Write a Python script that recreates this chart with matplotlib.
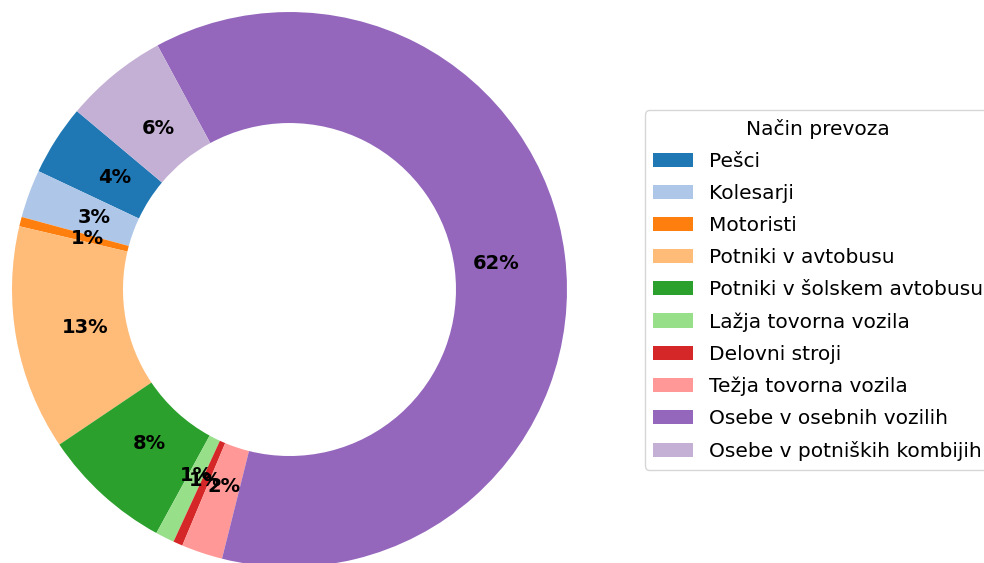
import matplotlib
matplotlib.use("Agg")
import matplotlib.pyplot as plt

# share of victims by mode of transport (%)
labels = ["Pešci", "Kolesarji", "Motoristi", "Potniki v avtobusu",
          "Potniki v šolskem avtobusu", "Lažja tovorna vozila", "Delovni stroji",
          "Težja tovorna vozila", "Osebe v osebnih vozilih", "Osebe v potniških kombijih"]
values = [4.1, 2.8, 0.55, 13.1, 7.6, 1.1, 0.55, 2.4, 61.8, 6.0]
legend_title = "Način prevoza"

colors = plt.get_cmap("tab20").colors[:len(values)]

fig = plt.figure(figsize=(9.84, 5.63), dpi=100)
# square axes placed so the donut sits on the left
ax = fig.add_axes([-0.0583, -0.1304, 0.705, 1.2323])

wedges, texts, autotexts = ax.pie(values, colors=colors, startangle=140,
                                  autopct="%1.0f%%", pctdistance=0.75,
                                  wedgeprops=dict(width=0.4),
                                  textprops=dict(fontsize=14))
for t in autotexts:
    t.set_fontweight("bold")
    t.set_color("black")

fig.legend(wedges, labels, title=legend_title, loc="center left",
           bbox_to_anchor=(645 / 984, 1 - 290 / 563), borderaxespad=0,
           fontsize=14.5, title_fontsize=14.5, labelspacing=0.65)

fig.savefig("out.png", dpi=100)
